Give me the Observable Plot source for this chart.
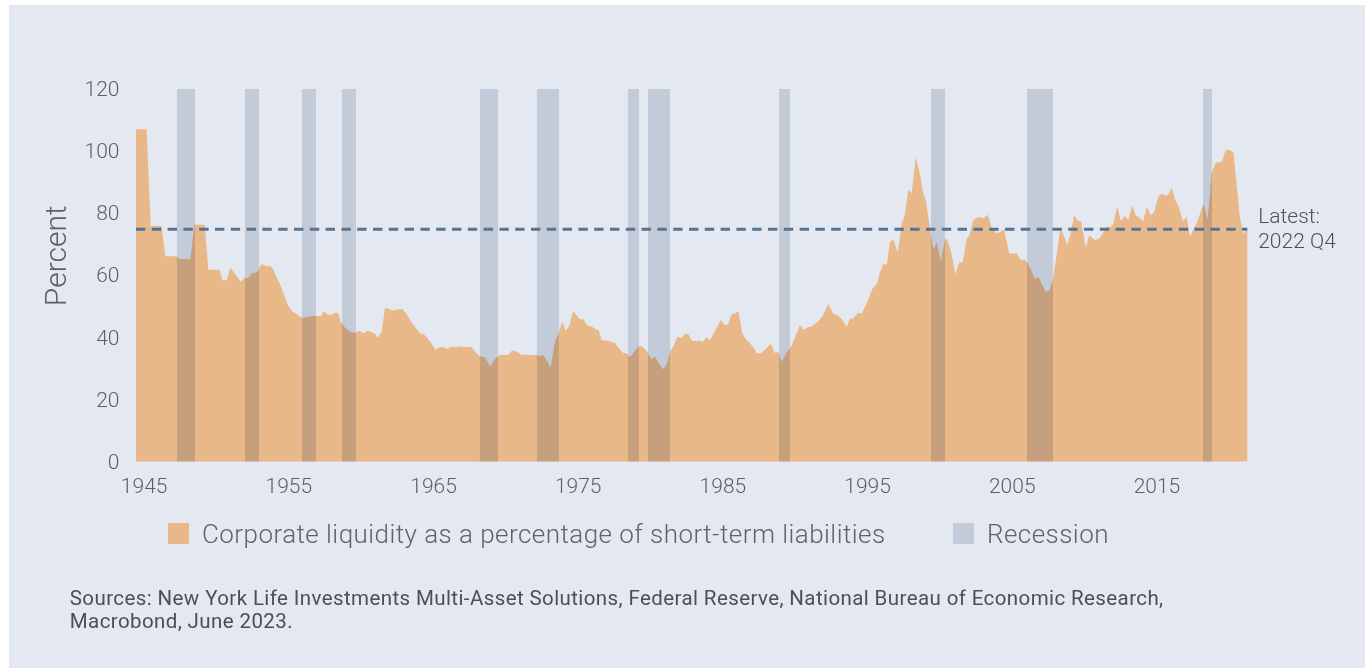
<!DOCTYPE html>
<html>
<head>
<meta charset="utf-8">
<script src="https://cdn.jsdelivr.net/npm/d3@7"></script>
<script src="https://cdn.jsdelivr.net/npm/@observablehq/plot@0.6"></script>
<style>
  html, body { margin: 0; padding: 0; background: #ffffff; }
  body { width: 1370px; height: 670px; position: relative; overflow: hidden;
         font-family: Roboto, "Liberation Sans", Arial, sans-serif; }
  #panel { position: absolute; left: 9px; top: 5px; width: 1356px; height: 663px; background: #e4e8f0; }
  #chart { position: absolute; left: 0; top: 0; }
  .sw { position: absolute; width: 21px; height: 21px; top: 518px; }
  .lt { position: absolute; top: 513.7px; font-size: 26px; line-height: 30px; font-weight: 300; color: #5e626b; white-space: nowrap; letter-spacing: 0.45px; }
  #note { position: absolute; left: 60.8px; top: 582.1px; font-size: 20.5px; line-height: 22.6px; color: #4b4f57; font-weight: 400; width: 1250px; letter-spacing: 0.4px; }
</style>
</head>
<body>
<div id="panel">
  <div id="chart"></div>
  <div class="sw" id="sw1"></div><div class="lt" id="lt1"></div>
  <div class="sw" id="sw2"></div><div class="lt" id="lt2"></div>
  <div id="note"></div>
</div>
<script>
// ---- data ----
const years = [
1944.47,1945.21,1945.48,1946.24,1946.49,1947.28,1947.46,1948.22,1948.50,1949.22,
1949.47,1950.23,1950.46,1950.74,1950.99,1951.70,1951.98,1952.23,1952.49,1952.81,
1953.16,1953.45,1953.73,1953.96,1954.19,1954.42,1954.70,1954.99,1955.27,1955.51,
1955.96,1956.49,1956.86,1957.30,1957.41,1957.76,1957.95,1958.22,1958.45,1958.64,
1958.91,1959.26,1959.60,1959.95,1960.18,1960.48,1960.76,1960.99,1961.17,1961.45,
1961.68,1961.91,1962.18,1962.49,1962.87,1963.18,1963.52,1963.87,1964.10,1964.39,
1964.79,1965.18,1965.41,1965.71,1965.98,1966.29,1966.63,1966.91,1967.21,1967.67,
1967.85,1968.20,1968.59,1968.94,1969.28,1969.63,1970.20,1970.44,1970.66,1971.13,
1971.70,1971.93,1972.16,1972.34,1972.62,1972.86,1973.13,1973.43,1973.66,1973.93,
1974.17,1974.42,1974.69,1975.04,1975.21,1975.38,1975.66,1976.03,1976.31,1976.45,
1976.66,1977.00,1977.58,1977.80,1978.11,1978.38,1978.61,1978.96,1979.19,1979.42,
1979.77,1980.11,1980.34,1980.64,1980.91,1981.15,1981.43,1981.61,1981.88,1982.19,
1982.41,1982.64,1982.88,1983.22,1983.45,1983.61,1983.91,1984.14,1984.49,1984.88,
1985.13,1985.37,1985.64,1985.92,1986.10,1986.37,1986.61,1986.91,1987.13,1987.37,
1987.67,1988.06,1988.36,1988.59,1988.86,1989.10,1989.44,1989.74,1990.02,1990.36,
1990.64,1990.94,1991.17,1991.59,1991.90,1992.32,1992.66,1992.97,1993.24,1993.59,
1993.82,1994.05,1994.35,1994.63,1995.04,1995.36,1995.66,1995.89,1996.12,1996.36,
1996.58,1996.81,1997.12,1997.39,1997.62,1997.85,1998.08,1998.36,1998.66,1998.84,
1999.07,1999.30,1999.58,1999.81,2000.09,2000.39,2000.54,2000.85,2001.10,2001.37,
2001.61,2001.88,2002.11,2002.34,2002.69,2003.03,2003.34,2003.61,2003.91,2004.19,
2004.46,2004.83,2005.34,2005.62,2005.91,2006.14,2006.61,2006.83,2007.07,2007.35,
2007.59,2007.83,2008.11,2008.33,2008.49,2008.84,2009.03,2009.32,2009.56,2009.79,
2010.11,2010.36,2010.75,2011.10,2011.56,2011.79,2012.02,2012.29,2012.55,2012.83,
2013.05,2013.33,2013.57,2014.09,2014.33,2014.60,2014.83,2015.13,2015.36,2015.59,
2015.82,2016.05,2016.28,2016.56,2016.81,2017.09,2017.32,2017.62,2017.85,2018.13,
2018.29,2018.54,2018.82,2019.10,2019.51,2019.79,2020.08,2020.31,2020.55,2020.77,
2021.00,2021.28
];
const liquidity = [
107,107,75.9,75.9,66.1,66.1,65.2,65.2,76.3,76.3,
61.8,61.8,58.4,58.4,62.5,58.0,59.1,59.1,60.7,60.9,
63.6,62.9,63.1,62.0,59.3,57.2,53.7,50.2,48.4,47.7,
46.2,46.7,46.9,46.9,48.4,47.2,47.2,47.9,47.7,44.8,
43.2,41.7,41.4,42.1,41.2,42.1,41.6,41.2,39.8,41.8,
49.4,49.3,48.6,49.0,49.1,47.5,44.8,42.7,41.3,40.9,
38.7,35.9,36.8,36.8,36.3,37.0,36.8,37.1,36.8,37.0,
35.7,34.0,33.6,30.7,33.0,34.4,34.3,35.7,35.7,34.4,
34.4,34.2,34.3,33.9,34.2,32.5,30.3,38.9,41.1,45.0,
42.1,43.7,48.5,46.4,45.7,45.9,43.8,43.3,42.4,42.4,
39.1,39.0,38.2,36.8,35.0,34.9,33.6,35.7,37.0,37.2,
35.5,32.9,33.8,31.4,29.7,31.3,35.9,37.0,40.2,39.8,
41.1,41.1,38.9,38.7,39.1,38.4,40.0,39.1,42.1,45.6,
44.1,44.0,47.5,47.7,48.6,41.3,39.5,38.1,36.8,34.9,
34.9,36.6,37.9,35.0,35.3,32.1,35.2,36.8,40.0,43.9,
42.4,43.3,43.5,45.0,46.6,50.7,47.7,47.0,45.9,43.4,
46.1,46.1,47.9,47.7,51.6,55.6,57.2,60.9,63.6,63.4,
70.6,71.6,67.3,76.5,79.7,87.5,86.3,97.9,92.6,87.2,
84.0,76.5,68.4,70.6,64.7,71.6,71.6,66.8,60.4,64.1,
64.1,71.6,73.3,77.8,78.8,78.4,79.5,75.4,73.5,73.8,
74.9,67.0,67.0,64.9,65.0,63.6,58.8,59.5,57.2,54.7,
55.0,58.2,66.8,74.3,74.0,69.7,72.7,79.4,77.5,77.5,
68.9,72.9,71.3,72.0,75.6,75.4,76.5,82.2,77.5,79.2,
77.7,82.4,79.4,77.5,82.0,79.4,80.2,85.3,86.3,85.6,
85.9,88.3,84.5,82.0,77.5,78.8,72.4,75.4,77.5,81.6,
82.9,77.9,93.1,96.3,96.5,100.4,100.3,99.7,88.8,78.6,
73.3,74.9
];
const recessionStart = [1947.30,1952.00,1955.94,1958.71,1968.24,1972.18,1978.47,1979.86,1988.91,1999.42,2006.05,2018.22];
const recessionEnd   = [1948.55,1952.97,1956.91,1959.67,1969.49,1973.70,1979.23,1981.38,1989.67,2000.39,2007.85,2018.84];
const xTicks = [1945, 1955, 1965, 1975, 1985, 1995, 2005, 2015];
const yTicks = [0, 20, 40, 60, 80, 100, 120];
const yMax = 120;
const latestValue = 75;
const latestLabel = "Latest:\n2022 Q4";
const yLabel = "Percent";
const seriesName = "Corporate liquidity as a percentage of short-term liabilities";
const recessionName = "Recession";
const sourceNote = "Sources: New York Life Investments Multi-Asset Solutions, Federal Reserve, National Bureau of Economic Research,<br>Macrobond, June 2023.";

// ---- colours ----
const areaColor = "#e8b889";
const recessionColor = "#c3cad9";
const recessionMultiply = "#dadee6";
const lineColor = "#537595";

const series = years.map((year, i) => ({year, value: liquidity[i]}));
const recessions = recessionStart.map((start, i) => ({start, end: recessionEnd[i]}));
const firstYear = years[0], lastYear = years[years.length - 1];

const chart = Plot.plot({
  width: 1356,
  height: 520,
  marginLeft: 127,
  marginRight: 117.7,
  marginTop: 84,
  marginBottom: 63.5,
  style: {
    background: "#e4e8f0",
    color: "#5b5f68",
    fontFamily: "Roboto, 'Liberation Sans', Arial, sans-serif",
    fontSize: "21px",
    fontWeight: "300",
    overflow: "visible"
  },
  x: {domain: [firstYear, lastYear], ticks: xTicks, tickFormat: d => String(d), tickSize: 0, tickPadding: 16, label: null},
  y: {domain: [0, yMax], ticks: yTicks, tickSize: 0, tickPadding: 17, label: null},
  marks: [
    Plot.areaY(series, {x: "year", y: "value", fill: areaColor}),
    Plot.rect(recessions, {x1: "start", x2: "end", y1: 0, y2: yMax, fill: recessionMultiply, mixBlendMode: "multiply"}),
    Plot.ruleY([latestValue], {x1: firstYear, x2: lastYear, stroke: lineColor, strokeWidth: 3, strokeDasharray: "9.4,6.4"}),
    Plot.text([latestLabel], {text: d => d, x: lastYear, y: latestValue, dx: 10.4, dy: -2, textAnchor: "start", lineAnchor: "middle", lineHeight: 1.2, fontSize: 21, fill: "#4d5159"}),
    Plot.text([yLabel], {text: d => d, frameAnchor: "left", dx: -80, dy: -20, rotate: -90, textAnchor: "middle", lineAnchor: "middle", fontSize: 30, fill: "#5b5f68"})
  ]
});
document.getElementById("chart").appendChild(chart);

document.getElementById("sw1").style.cssText += `left:159px;background:${areaColor};`;
document.getElementById("lt1").style.left = "193px";
document.getElementById("lt1").textContent = seriesName;
document.getElementById("sw2").style.cssText += `left:944px;background:${recessionColor};`;
document.getElementById("lt2").style.left = "978px";
document.getElementById("lt2").textContent = recessionName;
document.getElementById("note").innerHTML = sourceNote;
</script>
</body>
</html>
